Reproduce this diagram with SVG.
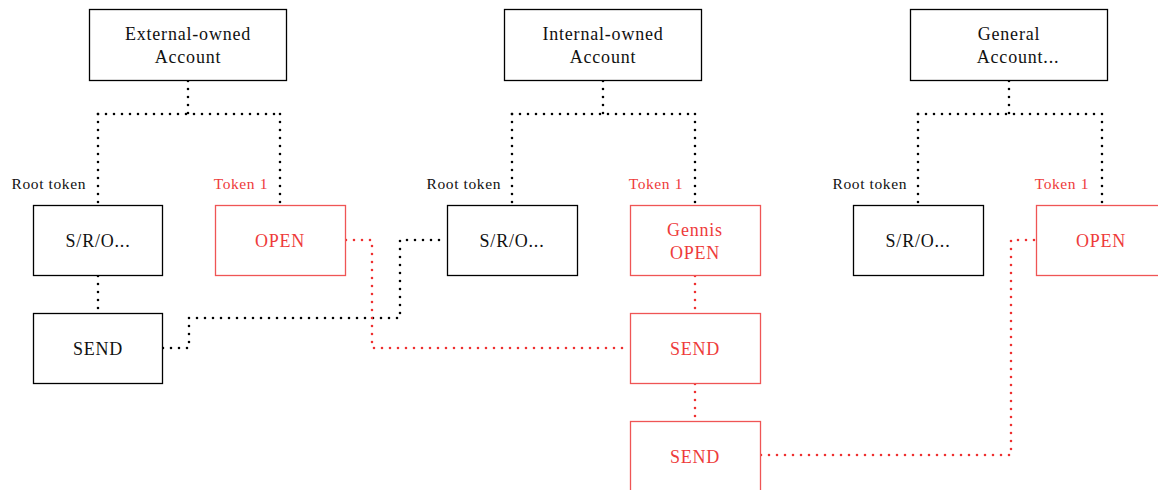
<svg xmlns="http://www.w3.org/2000/svg" width="1158" height="490" viewBox="0 0 1158 490">
  <style>
    .box { fill: #ffffff; stroke: #000000; stroke-width: 1.3; }
    .box.red { stroke: #ef5555; }
    .t { font-family: "Liberation Serif", "Times New Roman", serif; font-size: 18px; letter-spacing: 0.8px; fill: #111111; text-anchor: middle; }
    .t.red { fill: #ee3b3b; }
    .lbl { font-family: "Liberation Serif", "Times New Roman", serif; font-size: 15.5px; letter-spacing: 0.6px; fill: #111111; text-anchor: end; }
    .lbl.red { fill: #ee3b3b; }
    .link { fill: none; stroke: #000000; stroke-width: 2.6; stroke-linecap: round; stroke-dasharray: 0 8; }
    .link.red { stroke: #ee3030; }
  </style>
  <rect width="1158" height="490" fill="#ffffff"/>

  <!-- connectors -->
  <g id="connectors">
    <!-- account trees -->
    <path class="link" d="M188 81 V114"/>
    <path class="link" d="M98 114 H280"/>
    <path class="link" d="M98 114 V205"/>
    <path class="link" d="M280 114 V205"/>

    <path class="link" d="M603 81 V114"/>
    <path class="link" d="M512 114 H695"/>
    <path class="link" d="M512 114 V205"/>
    <path class="link" d="M695 114 V205"/>

    <path class="link" d="M1009 81 V114"/>
    <path class="link" d="M918 114 H1102"/>
    <path class="link" d="M918 114 V205"/>
    <path class="link" d="M1102 114 V205"/>

    <!-- root chain -->
    <path class="link" d="M98 276 V313"/>
    <path class="link" d="M163 348 H189 V318 H400 V240 H447"/>

    <!-- token chain -->
    <path class="link red" d="M346 240 H372 V348 H630"/>
    <path class="link red" d="M695 276 V313"/>
    <path class="link red" d="M695 384 V421"/>
    <path class="link red" d="M761 455 H1011 V240 H1036"/>
  </g>

  <!-- labels -->
  <g id="labels">
    <text class="lbl" x="86" y="189">Root token</text>
    <text class="lbl red" x="268" y="189">Token 1</text>
    <text class="lbl" x="501" y="189">Root token</text>
    <text class="lbl red" x="683" y="189">Token 1</text>
    <text class="lbl" x="907" y="189">Root token</text>
    <text class="lbl red" x="1089" y="189">Token 1</text>
  </g>

  <!-- accounts -->
  <g id="external-account">
    <rect class="box" x="89.5" y="9.5" width="197" height="71"/>
    <text class="t" x="188" y="40">External-owned</text>
    <text class="t" x="188" y="63">Account</text>
  </g>
  <g id="internal-account">
    <rect class="box" x="504.5" y="9.5" width="197" height="71"/>
    <text class="t" x="603" y="40">Internal-owned</text>
    <text class="t" x="603" y="63">Account</text>
  </g>
  <g id="general-account">
    <rect class="box" x="910.5" y="9.5" width="197" height="71"/>
    <text class="t" x="1009" y="40">General</text>
    <text class="t" x="1018" y="63">Account...</text>
  </g>

  <!-- blocks -->
  <g id="ext-root">
    <rect class="box" x="33.5" y="205.5" width="129" height="70"/>
    <text class="t" x="98" y="247">S/R/O...</text>
  </g>
  <g id="ext-send">
    <rect class="box" x="33.5" y="313.5" width="129" height="70"/>
    <text class="t" x="98" y="355">SEND</text>
  </g>
  <g id="ext-open">
    <rect class="box red" x="215.5" y="205.5" width="130" height="70"/>
    <text class="t red" x="280" y="247">OPEN</text>
  </g>

  <g id="int-root">
    <rect class="box" x="447.5" y="205.5" width="130" height="70"/>
    <text class="t" x="512" y="247">S/R/O...</text>
  </g>
  <g id="int-genesis-open">
    <rect class="box red" x="630.5" y="205.5" width="130" height="70"/>
    <text class="t red" x="695" y="236">Gennis</text>
    <text class="t red" x="695" y="259">OPEN</text>
  </g>
  <g id="int-send-1">
    <rect class="box red" x="630.5" y="313.5" width="130" height="70"/>
    <text class="t red" x="695" y="355">SEND</text>
  </g>
  <g id="int-send-2">
    <rect class="box red" x="630.5" y="421.5" width="130" height="75"/>
    <text class="t red" x="695" y="463">SEND</text>
  </g>

  <g id="gen-root">
    <rect class="box" x="853.5" y="205.5" width="130" height="70"/>
    <text class="t" x="918" y="247">S/R/O...</text>
  </g>
  <g id="gen-open">
    <rect class="box red" x="1036.5" y="205.5" width="130" height="70"/>
    <text class="t red" x="1101" y="247">OPEN</text>
  </g>
</svg>
